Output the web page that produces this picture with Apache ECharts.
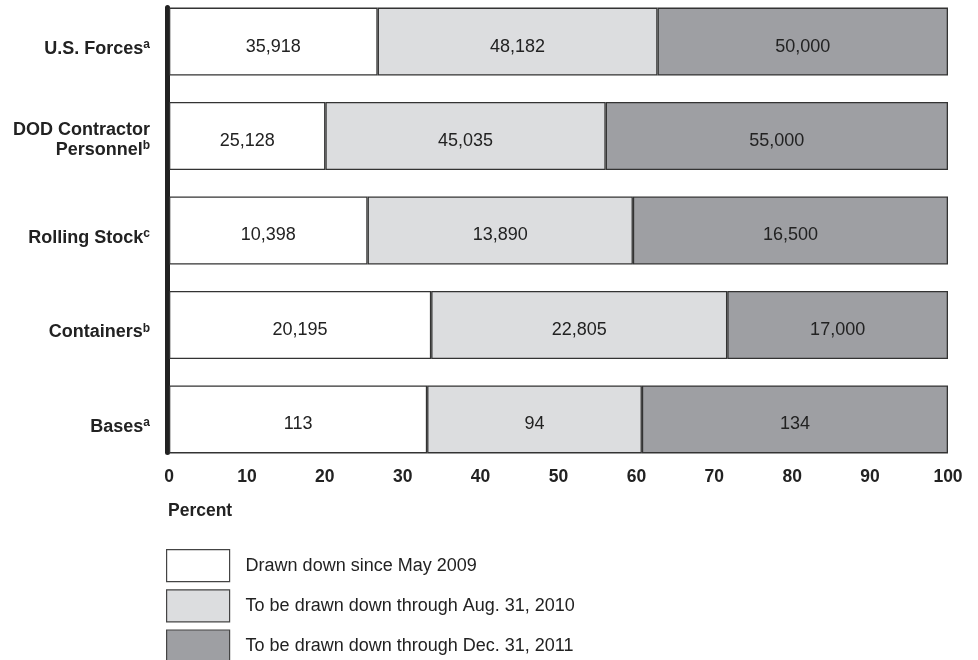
<!DOCTYPE html>
<html>
<head>
<meta charset="utf-8">
<script src="https://cdn.jsdelivr.net/npm/echarts@6/dist/echarts.min.js"></script>
<style>html,body{margin:0;padding:0;background:#fff}#c{width:978px;height:660px}</style>
</head>
<body>
<div id="c"></div>
<script>
const categories = ['U.S. Forces', 'DOD Contractor\nPersonnel', 'Rolling Stock', 'Containers', 'Bases'];
const footnotes = ['a', 'b', 'c', 'b', 'a'];
const seriesNames = ['Drawn down since May 2009', 'To be drawn down through Aug. 31, 2010', 'To be drawn down through Dec. 31, 2011'];
const drawnDown = [35918, 25128, 10398, 20195, 113];
const throughAug2010 = [48182, 45035, 13890, 22805, 94];
const throughDec2011 = [50000, 55000, 16500, 17000, 134];
const xTicks = [0, 10, 20, 30, 40, 50, 60, 70, 80, 90, 100];

const FONT = "'Liberation Sans', Arial, Helvetica, sans-serif";
const colors = ['#ffffff', '#dcdddf', '#9e9fa3'];
const raw = [drawnDown, throughAug2010, throughDec2011];
const totals = categories.map((_, i) => raw.reduce((s, a) => s + a[i], 0));

const labelMap = {};
categories.forEach((c, i) => { labelMap[c] = i; });

const chart = echarts.init(document.getElementById('c'), null, {renderer: 'canvas'});
chart.setOption({
  animation: false,
  textStyle: {fontFamily: FONT},
  title: {
    text: 'Percent', left: 168, top: 502, padding: 0,
    textStyle: {fontFamily: FONT, fontSize: 17.5, fontWeight: 'bold', color: '#222'}
  },
  legend: {
    orient: 'vertical', left: 166, top: 549, height: 200, padding: 0,
    itemWidth: 63, itemHeight: 32, itemGap: 7,
    icon: 'rect',
    itemStyle: {borderColor: '#444', borderWidth: 1.2},
    textStyle: {fontFamily: FONT, fontSize: 18, color: '#222', padding: [3, 0, 0, 11]},
    data: seriesNames
  },
  grid: [
    {left: 169, right: 30, top: 41.6, height: 377.8},
    {left: 169, right: 30, top: 7.5, height: 445}
  ],
  xAxis: [
    {gridIndex: 0, type: 'value', min: 0, max: 100, show: false},
    {gridIndex: 1, type: 'value', min: 0, max: 100, interval: 10,
     axisLine: {show: false}, axisTick: {show: false}, splitLine: {show: false},
     axisLabel: {margin: 16, fontFamily: FONT, fontSize: 17.5, fontWeight: 'bold', color: '#222',
       formatter: v => xTicks.indexOf(v) >= 0 ? String(v) : ''}}
  ],
  yAxis: [
    {gridIndex: 0, type: 'category', inverse: true, boundaryGap: false, data: categories,
     axisLine: {show: false}, axisTick: {show: false}, splitLine: {show: false},
     axisLabel: {
       margin: 19, color: '#222',
       formatter: function (v) {
         const i = labelMap[v];
         const lines = v.split('\n');
         const gap = lines.length > 1 ? '{g2| }' : '{g1| }';
         return gap + '\n' + lines.map((l, k) => k === lines.length - 1 ? '{n|' + l + '}{s|' + footnotes[i] + '}' : '{n|' + l + '}').join('\n');
       },
       rich: {
         g1: {fontSize: 1, lineHeight: 15},
         g2: {fontSize: 1, lineHeight: 7},
         n: {fontFamily: FONT, fontSize: 18, fontWeight: 'bold', color: '#222', lineHeight: 20},
         s: {fontFamily: FONT, fontSize: 12, fontWeight: 'bold', color: '#222', lineHeight: 20, verticalAlign: 'top', padding: [0, 0, 8, 0]}
       }
     }},
    {gridIndex: 1, type: 'value', min: 0, max: 1, offset: 2,
     axisLine: {show: true, onZero: false, lineStyle: {color: '#222', width: 5}},
     axisTick: {show: false}, axisLabel: {show: false}, splitLine: {show: false}}
  ],
  series: seriesNames.map((name, s) => ({
    name: name, type: 'bar', stack: 'total', xAxisIndex: 0, yAxisIndex: 0,
    barWidth: 68,
    itemStyle: {color: colors[s], borderColor: '#333', borderWidth: 1.3},
    label: {
      show: true, position: 'inside', offset: [0, 5], fontFamily: FONT, fontSize: 18, color: '#222',
      formatter: p => raw[s][p.dataIndex].toLocaleString('en-US')
    },
    data: raw[s].map((v, i) => v / totals[i] * 100)
  }))
});
</script>
</body>
</html>
